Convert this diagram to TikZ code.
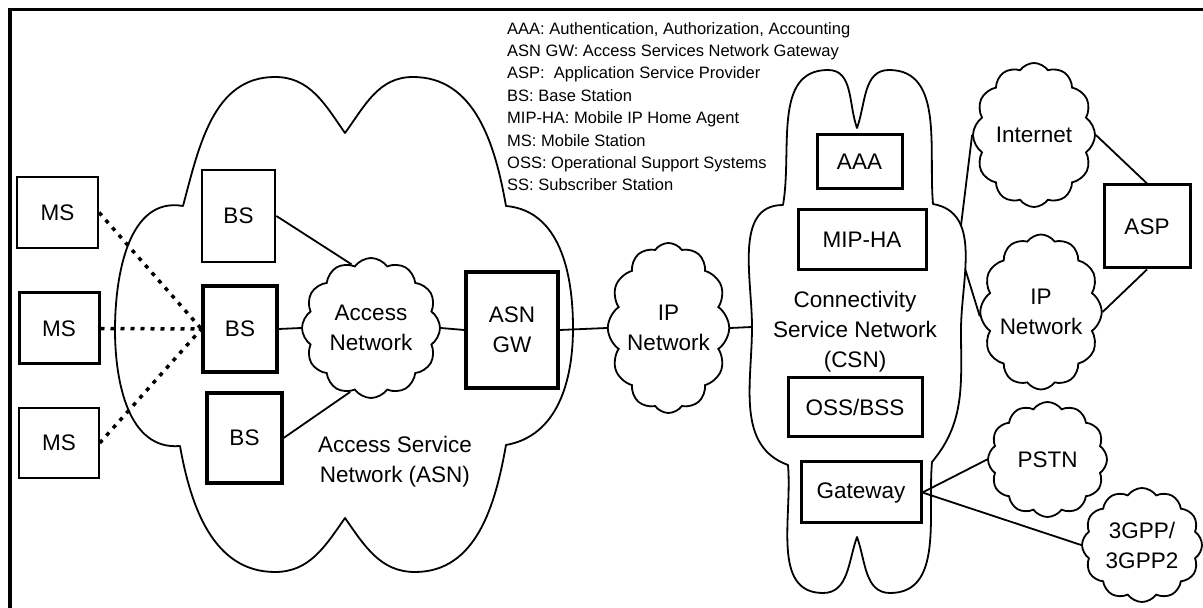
\documentclass[tikz,border=0pt]{standalone}
\usepackage{fontspec}
\setmainfont{Liberation Sans}
\usetikzlibrary{shapes.symbols}

\begin{document}
\begin{tikzpicture}[x=1pt,y=1pt,
  lbl/.style={font=\fontsize{22.5}{30}\selectfont, align=center},
  box/.style={draw, line width=3pt, inner sep=0pt, lbl},
  net/.style={cloud, draw, line width=1.8pt, cloud puffs=12, cloud puff arc=110,
    cloud ignores aspect, inner sep=0pt, lbl},
  link/.style={line width=1.8pt},
  radio/.style={line width=3.5pt, dash pattern=on 4pt off 6pt},
  outline/.style={line width=1.8pt, line join=round},
  legendtext/.style={anchor=north west, inner sep=0pt, align=left,
    font=\fontsize{16.5}{22.4}\selectfont}
]
\useasboundingbox (0,0) rectangle (1203,608);

% frame
\draw[line width=3.5pt] (10,0) -- (10,598.5) -- (1203,598.5);

% legend
\node[legendtext] (legend) at (507,586) {AAA: Authentication, Authorization, Accounting\\
ASN GW: Access Services Network Gateway\\
ASP: \ Application Service Provider\\
BS: Base Station\\
MIP-HA: Mobile IP Home Agent\\
MS: Mobile Station\\
OSS: Operational Support Systems\\
SS: Subscriber Station};

% Access Service Network outline
\draw[outline] (183,402) to[out=75,in=180] (275,531) to[out=0,in=125] (345,475)
  to[out=54,in=180] (413,531) to[out=0,in=100] (506,402)
  to[out=-5,in=90] (573,280) to[out=-90,in=10] (506,163)
  to[out=-100,in=0] (415,36) to[out=180,in=-55] (345,90)
  to[out=-125,in=0] (275,36) to[out=180,in=-80] (180,162)
  to[out=185,in=-90] (115,278) to[out=90,in=170] (183,402) -- cycle;
\node[lbl] (asnlabel) at (395,146) {Access Service\\Network (ASN)};

% Connectivity Service Network outline
\draw[outline] (783,403) to[out=80,in=180] (828,538) to[out=0,in=110] (857,480)
  to[out=70,in=180] (889,538) to[out=0,in=95] (933,404)
  to[out=-10,in=90] coordinate[pos=0.3] (csnA) coordinate[pos=0.62] (csnB) (961,278)
  to[out=-90,in=50] (932,146) to[out=-95,in=0] (890,15)
  to[out=180,in=-70] (857,71) to[out=-110,in=0] (823,15)
  to[out=180,in=-85] (788,143) to[out=160,in=-90] (752,281) coordinate (csnW)
  to[out=90,in=180] (783,403) -- cycle;
\node[lbl] (csnlabel) at (855,276) {Connectivity\\Service Network\\(CSN)};

% stations
\node[box, line width=2.2pt, minimum width=81pt, minimum height=71pt] (ms1) at (57.5,395.5) {MS};
\node[box, minimum width=80pt, minimum height=71pt] (ms2) at (59,279.5) {MS};
\node[box, line width=1.5pt, minimum width=80pt, minimum height=70pt] (ms3) at (59,165) {MS};
\node[box, line width=2.8pt, minimum width=73pt, minimum height=92pt] (bs1) at (238.5,392) {BS};
\node[box, line width=3.2pt, minimum width=74pt, minimum height=86pt] (bs2) at (240,279) {BS};
\node[box, line width=3.2pt, minimum width=75pt, minimum height=90pt] (bs3) at (244.5,170) {BS};
\node[box, line width=3.4pt, minimum width=92pt, minimum height=116pt] (gw) at (512,278) {ASN\\GW};

% CSN functions
\node[box, minimum width=85pt, minimum height=54pt] (aaa) at (859.5,446) {AAA};
\node[box, minimum width=128pt, minimum height=60pt] (mip) at (862,368) {MIP-HA};
\node[box, minimum width=134pt, minimum height=59pt] (oss) at (855,200.5) {OSS/BSS};
\node[box, minimum width=120pt, minimum height=61pt] (gtw) at (861,115.5) {Gateway};
\node[box, minimum width=86pt, minimum height=83pt] (asp) at (1147,381.5) {ASP};

% networks
\node[net, minimum width=138pt, minimum height=140pt] (an) at (371,280) {Access\\Network};
\node[net, minimum width=119pt, minimum height=170pt] (ip) at (668.5,280) {IP\\Network};
\node[net, minimum width=122pt, minimum height=144pt] (inet) at (1034,473) {Internet};
\node[net, minimum width=118pt, minimum height=155pt] (ip2) at (1041,296) {IP\\Network};
\node[net, minimum width=119pt, minimum height=115pt] (pstn) at (1047.5,148.5) {PSTN};
\node[net, minimum width=120pt, minimum height=114pt] (tgpp) at (1142,63) {3GPP/\\3GPP2};

% radio links
\draw[radio] (ms1.east) -- (bs2.west);
\draw[radio] (ms2.east) -- (bs2.west);
\draw[radio] (ms3.east) -- (bs2.west);

% wired links
\draw[link] (bs1.east) -- (an.107);
\draw[link] (bs2.east) -- (an.west);
\draw[link] (bs3.east) -- (an.252);
\draw[link] (an.east) -- (gw.west);
\draw[link] (gw.east) -- (ip.west);
\draw[link] (ip.east) -- (csnW);
\draw[link] (csnA) -- (inet.west);
\draw[link] (csnB) -- (ip2.184);
\draw[link] (inet.east) -- (asp.north);
\draw[link] (ip2.east) -- (asp.south);
\draw[link] (gtw.east) -- (pstn.west);
\draw[link] (gtw.east) -- (tgpp.west);
\end{tikzpicture}
\end{document}
